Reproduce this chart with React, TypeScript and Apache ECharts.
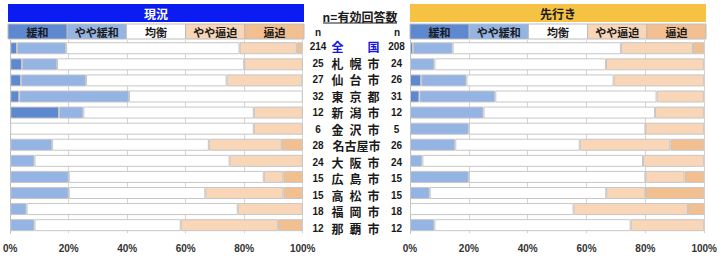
import React, { useEffect, useRef } from "react";
import * as echarts from "echarts";

const cities = ["全国", "札幌市", "仙台市", "東京都", "新潟市", "金沢市", "名古屋市", "大阪市", "広島市", "高松市", "福岡市", "那覇市"];
const nNow = [214, 25, 27, 32, 12, 6, 28, 24, 15, 15, 18, 12];
const nFuture = [208, 24, 26, 31, 12, 5, 26, 24, 15, 15, 18, 12];
const segmentNames = ["緩和", "やや緩和", "均衡", "やや逼迫", "逼迫"];
const segmentColors = ["#5e89d0", "#94b4e3", "#ffffff", "#f8d6b7", "#f2bf91"];
const tickValues = [0, 20, 40, 60, 80, 100];

// 現況 (%)
const nowKanwa = [2.3, 4, 3.7, 3.1, 16.7, 0, 0, 0, 0, 0, 0, 0];
const nowYayaKanwa = [16.8, 12, 22.2, 37.5, 8.3, 0, 14.3, 8.3, 20, 20, 5.6, 8.3];
const nowKinko = [59.3, 64, 48.1, 59.4, 58.3, 83.3, 53.6, 66.7, 66.7, 46.7, 72.2, 50];
const nowYayaHippaku = [19.6, 20, 25.9, 0, 16.7, 16.7, 25, 25, 6.7, 26.7, 22.2, 33.3];
const nowHippaku = [1.9, 0, 0, 0, 0, 0, 7.1, 0, 6.7, 6.7, 0, 8.3];

// 先行き (%)
const futKanwa = [1, 0, 3.8, 3.2, 0, 0, 0, 0, 0, 0, 0, 0];
const futYayaKanwa = [13.5, 8.3, 15.4, 25.8, 25, 20, 15.4, 4.2, 20, 6.7, 0, 8.3];
const futKinko = [57.2, 58.3, 50, 54.8, 58.3, 60, 42.3, 75, 60, 60, 55.6, 66.7];
const futYayaHippaku = [24.5, 33.3, 30.8, 16.1, 16.7, 20, 30.8, 20.8, 13.3, 13.3, 38.9, 25];
const futHippaku = [3.8, 0, 0, 0, 0, 0, 11.5, 0, 6.7, 20, 5.6, 0];

const JP = '"Noto Sans CJK JP", sans-serif';
const NUM = '"Liberation Sans", Arial, sans-serif';

export default function App() {
  const ref = useRef<HTMLDivElement>(null);
  useEffect(() => {
    if (!ref.current) return;
    const chart = echarts.init(ref.current, null, { renderer: "svg" });

    const nowSets = [nowKanwa, nowYayaKanwa, nowKinko, nowYayaHippaku, nowHippaku];
    const futSets = [futKanwa, futYayaKanwa, futKinko, futYayaHippaku, futHippaku];

    const mkSeries = (sets: number[][], idx: number, stack: string) =>
      sets.map((arr, k) => ({
        type: "bar",
        name: segmentNames[k],
        stack,
        xAxisIndex: idx,
        yAxisIndex: idx,
        barWidth: 12,
        data: arr.map((v) => (v === 0 ? "-" : v)),
        itemStyle: { color: segmentColors[k], borderColor: "#c6c6c6", borderWidth: 1 },
        silent: true,
      }));

    const gridLefts = [8.3, 410];
    const gridWidth = 295;

    const xAxisBase = (gi: number) => ({
      type: "value",
      gridIndex: gi,
      min: 0,
      max: 100,
      interval: 20,
      axisLine: { show: false },
      axisTick: { show: false },
      splitLine: { show: true, lineStyle: { color: "#d4d4d4", width: 1 } },
      axisLabel: {
        formatter: "{value}%",
        fontFamily: NUM,
        fontWeight: "bold",
        fontSize: 10,
        color: "#333333",
        margin: 10,
      },
    });
    const yAxisBase = (gi: number) => ({
      type: "category",
      gridIndex: gi,
      data: cities,
      inverse: true,
      axisLine: { show: true, lineStyle: { color: "#bfbfbf" } },
      axisTick: { show: false },
      axisLabel: { show: false },
      splitLine: { show: false },
    });

    const labelFormatter = (value: string, index: number) => {
      let s = `{n|${nNow[index]}}{sp1|}`;
      if (value === "全国") {
        s += `{b3|全}{b3|}{b3|国}`;
      } else if (value.length === 3) {
        for (const c of value) s += `{w3|${c}}`;
      } else {
        s += `{p4|}`;
        for (const c of value) s += `{w4|${c}}`;
        s += `{p4e|}`;
      }
      s += `{sp2|}{n|${nFuture[index]}}`;
      return s;
    };

    const graphics: any[] = [];
    const headers = [
      { x: 8, text: "現況", fill: "#0a1cf2", color: "#ffffff" },
      { x: 410, text: "先行き", fill: "#f6c244", color: "#1a1a1a" },
    ];
    headers.forEach((h) => {
      graphics.push({
        type: "rect",
        shape: { x: h.x, y: 4, width: 296, height: 18 },
        style: { fill: h.fill },
      });
      graphics.push({
        type: "text",
        x: h.x + 148,
        y: 13,
        style: {
          text: h.text,
          fill: h.color,
          font: `bold 12px ${JP}`,
          textAlign: "center",
          textVerticalAlign: "middle",
        },
      });
      const cw = 296 / 5;
      segmentNames.forEach((nm, k) => {
        graphics.push({
          type: "rect",
          shape: { x: h.x + k * cw, y: 24, width: cw, height: 15 },
          style: { fill: segmentColors[k], stroke: "#bdbdbd", lineWidth: 1 },
        });
        graphics.push({
          type: "text",
          x: h.x + k * cw + cw / 2,
          y: 31.5,
          style: {
            text: nm,
            fill: "#1a1a1a",
            font: `bold 11px ${JP}`,
            textAlign: "center",
            textVerticalAlign: "middle",
          },
        });
      });
    });
    graphics.push({
      type: "text",
      x: 360,
      y: 16,
      style: {
        text: "n=有効回答数",
        fill: "#1a1a1a",
        font: `bold 12px ${JP}`,
        textAlign: "center",
        textVerticalAlign: "middle",
      },
    });
    graphics.push({
      type: "line",
      shape: { x1: 323, y1: 23, x2: 397, y2: 23 },
      style: { stroke: "#1a1a1a", lineWidth: 1 },
    });
    [318, 397].forEach((x) =>
      graphics.push({
        type: "text",
        x,
        y: 32,
        style: {
          text: "n",
          fill: "#1a1a1a",
          font: `bold 10px ${NUM}`,
          textAlign: "center",
          textVerticalAlign: "middle",
        },
      })
    );

    chart.setOption({
      animation: false,
      grid: [
        { left: gridLefts[0], width: gridWidth - 0.6, top: 40.2, height: 193 },
        { left: gridLefts[1], width: gridWidth, top: 40.2, height: 193 },
        { left: 405, width: 1, top: 38.5, height: 198 },
      ],
      xAxis: [
        xAxisBase(0),
        xAxisBase(1),
        { type: "value", gridIndex: 2, show: false, min: 0, max: 1 },
      ],
      yAxis: [
        yAxisBase(0),
        yAxisBase(1),
        {
          type: "category",
          gridIndex: 2,
          data: cities,
          inverse: true,
          position: "left",
          axisLine: { show: false },
          axisTick: { show: false },
          splitLine: { show: false },
          axisLabel: {
            show: true,
            margin: 0,
            align: "right",
            formatter: labelFormatter,
            rich: {
              n: { width: 17, align: "center", fontFamily: NUM, fontWeight: "bold", fontSize: 10, color: "#1a1a1a" },
              sp1: { width: 2 },
              sp2: { width: 5.5 },
              w3: { width: 18, align: "center", fontFamily: JP, fontWeight: "bold", fontSize: 12, color: "#1a1a1a" },
              b3: { width: 18, align: "center", fontFamily: JP, fontWeight: "bold", fontSize: 12, color: "#1515e8" },
              p4: { width: 4 },
              p4e: { width: 2 },
              w4: { width: 12, align: "center", fontFamily: JP, fontWeight: "bold", fontSize: 12, color: "#1a1a1a" },
            },
          },
        },
      ],
      series: [...mkSeries(nowSets, 0, "now"), ...mkSeries(futSets, 1, "fut")],
      graphic: graphics,
    });
    return () => chart.dispose();
  }, []);
  return (
    <div
      ref={ref}
      style={{ position: "absolute", left: 0, top: 0, width: 720, height: 257, background: "#ffffff" }}
    />
  );
}

void tickValues;
